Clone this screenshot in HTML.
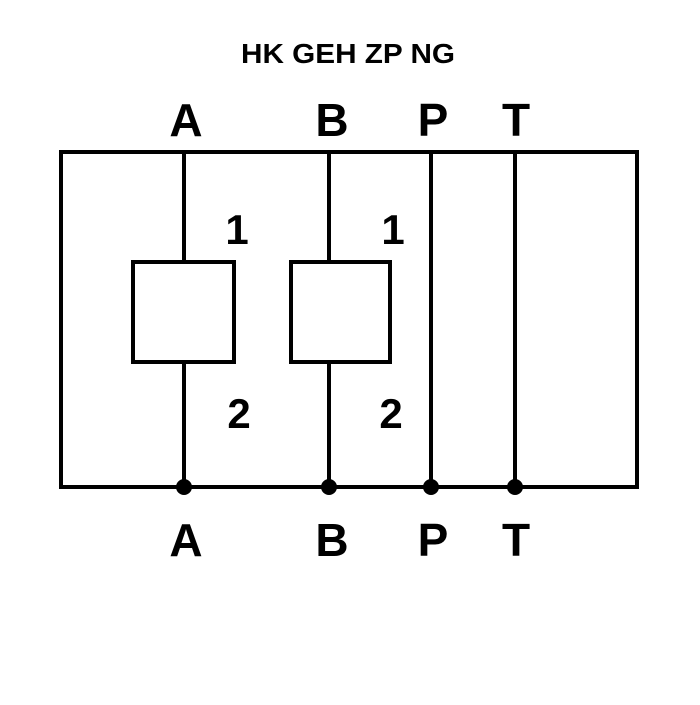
<!DOCTYPE html>
<html><head><style>body{margin:0;background:#fff}</style></head><body>
<svg width="700" height="700" xmlns="http://www.w3.org/2000/svg">
<rect width="700" height="700" fill="#fff"/>
<text x="348" y="63" text-anchor="middle" font-family="Liberation Sans, sans-serif" font-weight="bold" font-size="28" textLength="214" lengthAdjust="spacingAndGlyphs">HK GEH ZP NG</text>
<g font-family="Liberation Sans, sans-serif" font-weight="bold" font-size="46" text-anchor="middle">
<text x="186" y="136">A</text><text x="332" y="136">B</text><text x="433" y="136">P</text><text x="516" y="136">T</text>
<text x="186" y="556">A</text><text x="332" y="556">B</text><text x="433" y="556">P</text><text x="516" y="556">T</text>
<text x="237" y="244" font-size="42">1</text><text x="393" y="244" font-size="42">1</text>
<text x="239" y="428" font-size="42">2</text><text x="391" y="428" font-size="42">2</text>
</g>
<g stroke="#000" stroke-width="4" fill="none">
<rect x="61" y="152" width="576" height="335"/>
<line x1="184" y1="152" x2="184" y2="262"/><line x1="184" y1="362" x2="184" y2="487"/>
<line x1="329" y1="152" x2="329" y2="262"/><line x1="329" y1="362" x2="329" y2="487"/>
<line x1="431" y1="152" x2="431" y2="487"/><line x1="515" y1="152" x2="515" y2="487"/>
<rect x="133" y="262" width="101" height="100"/>
<rect x="291" y="262" width="99" height="100"/>
</g>
<g fill="#000"><circle cx="184" cy="487" r="8"/><circle cx="329" cy="487" r="8"/><circle cx="431" cy="487" r="8"/><circle cx="515" cy="487" r="8"/></g>
</svg>
</body></html>
